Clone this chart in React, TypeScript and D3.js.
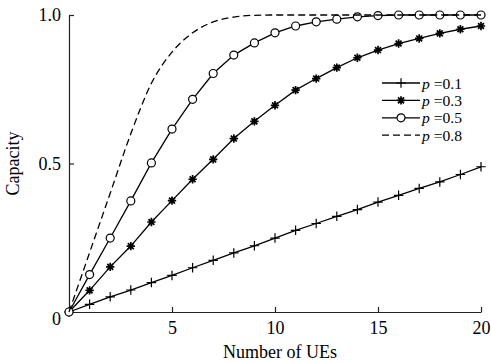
import { useRef, useEffect } from 'react';
import * as d3 from 'd3';

const UES = d3.range(0, 21);
const P01 = [0, 0.026, 0.051, 0.074, 0.099, 0.123, 0.149, 0.174, 0.199, 0.223, 0.249, 0.275, 0.298, 0.322, 0.345, 0.370, 0.393, 0.416, 0.438, 0.463, 0.489];
const P03 = [0, 0.073, 0.152, 0.222, 0.303, 0.375, 0.447, 0.514, 0.584, 0.642, 0.696, 0.747, 0.786, 0.823, 0.856, 0.882, 0.904, 0.921, 0.938, 0.952, 0.963];
const P05 = [0, 0.126, 0.249, 0.374, 0.502, 0.616, 0.716, 0.803, 0.865, 0.906, 0.940, 0.963, 0.977, 0.986, 0.994, 0.998, 1.0, 1.0, 1.0, 1.0, 1.0];
const P08 = [0, 0.2, 0.4, 0.6, 0.77, 0.875, 0.94, 0.977, 0.993, 0.999, 1.0, 1.0, 1.0, 1.0, 1.0, 1.0, 1.0, 1.0, 1.0, 1.0, 1.0];
const LABELS = ['0.1', '0.3', '0.5', '0.8'];
const X_TICKS = [5, 10, 15, 20];
const Y_TICKS = [0, 0.5, 1.0];

const W = 491;
const H = 362;
const FONT = '"Liberation Serif", "Times New Roman", serif';

// 8-armed star like the matlab '*' marker
const starSymbol = {
  draw(ctx: d3.Path, size: number) {
    const r = Math.sqrt(size) / 2;
    const d = r * Math.SQRT1_2;
    ctx.moveTo(-r, 0); ctx.lineTo(r, 0);
    ctx.moveTo(0, -r); ctx.lineTo(0, r);
    ctx.moveTo(-d, -d); ctx.lineTo(d, d);
    ctx.moveTo(-d, d); ctx.lineTo(d, -d);
  },
};
const plusSymbol = {
  draw(ctx: d3.Path, size: number) {
    const r = Math.sqrt(size) / 2;
    ctx.moveTo(-r, 0); ctx.lineTo(r, 0);
    ctx.moveTo(0, -r); ctx.lineTo(0, r);
  },
};

export default function App() {
  const ref = useRef<SVGSVGElement>(null);

  useEffect(() => {
    if (!ref.current) return;
    const svg = d3.select(ref.current);
    svg.selectAll('*').remove();

    const x = d3.scaleLinear().domain([0, 20]).range([69, 481]);
    const y = d3.scaleLinear().domain([0, 1]).range([312, 15]);

    const series = [
      { name: LABELS[0], values: P01, marker: 'plus' },
      { name: LABELS[1], values: P03, marker: 'star' },
      { name: LABELS[2], values: P05, marker: 'circle' },
      { name: LABELS[3], values: P08, marker: 'none' },
    ];

    // axes
    const xAxis = svg.append('g')
      .attr('transform', `translate(0,${y(0)})`)
      .call(d3.axisBottom(x).tickValues(X_TICKS).tickSize(-5).tickSizeOuter(0).tickPadding(9).tickFormat(d3.format('d')));
    const yAxis = svg.append('g')
      .attr('transform', `translate(${x(0)},0)`)
      .call(d3.axisLeft(y).tickValues(Y_TICKS).tickSize(-5).tickSizeOuter(0).tickPadding(8)
        .tickFormat(d => (d === 0 ? '0' : d3.format('.1f')(d as number))));
    yAxis.selectAll('.tick').filter(d => d === 0).select('line').remove();
    yAxis.selectAll('.tick').filter(d => d === 0).select('text').attr('dy', '0.75em').attr('y', -1);
    for (const g of [xAxis, yAxis]) {
      g.selectAll('text').attr('font-family', FONT).attr('font-size', 18).attr('fill', '#000');
      g.selectAll('line, path').attr('stroke', '#222').attr('stroke-width', 1.2);
    }

    // axis titles
    svg.append('text')
      .attr('x', (x(0) + x(20)) / 2 + 5)
      .attr('y', 358)
      .attr('text-anchor', 'middle')
      .attr('font-family', FONT)
      .attr('font-size', 18)
      .attr('fill', '#000')
      .text('Number of UEs');
    svg.append('text')
      .attr('transform', `translate(19,${y(0.5)}) rotate(-90)`)
      .attr('text-anchor', 'middle')
      .attr('font-family', FONT)
      .attr('font-size', 18)
      .attr('fill', '#000')
      .text('Capacity');

    const line = d3.line<number>().x((_, i) => x(UES[i])).y(d => y(d));
    const smooth = d3.line<number>().x((_, i) => x(UES[i])).y(d => y(d)).curve(d3.curveMonotoneX);

    const drawMarker = (g: d3.Selection<SVGGElement, unknown, null, undefined>, kind: string, cx: number, cy: number) => {
      if (kind === 'plus') {
        g.append('path').attr('d', d3.symbol(plusSymbol as any, 90)()).attr('transform', `translate(${cx},${cy})`)
          .attr('stroke', '#000').attr('stroke-width', 1.2).attr('fill', 'none');
      } else if (kind === 'star') {
        g.append('path').attr('d', d3.symbol(starSymbol as any, 70)()).attr('transform', `translate(${cx},${cy})`)
          .attr('stroke', '#000').attr('stroke-width', 1.7).attr('fill', 'none');
      } else if (kind === 'circle') {
        g.append('circle').attr('cx', cx).attr('cy', cy).attr('r', 4)
          .attr('stroke', '#000').attr('stroke-width', 1.2).attr('fill', '#fff');
      }
    };

    const plot = svg.append('g');
    series.forEach(s => {
      const g = plot.append('g');
      g.append('path')
        .attr('d', s.marker === 'none' ? smooth(s.values) : line(s.values))
        .attr('fill', 'none')
        .attr('stroke', '#000')
        .attr('stroke-width', 1.3)
        .attr('stroke-dasharray', s.marker === 'none' ? '7,4' : null);
      if (s.marker !== 'none') {
        s.values.forEach((v, i) => drawMarker(g as any, s.marker, x(UES[i]), y(v)));
      }
    });

    // legend
    const legend = svg.append('g').attr('transform', 'translate(382,83)');
    series.forEach((s, i) => {
      const row = legend.append('g').attr('transform', `translate(0,${i * 17.4})`);
      row.append('line')
        .attr('x1', 0).attr('x2', 38).attr('y1', 0).attr('y2', 0)
        .attr('stroke', '#000').attr('stroke-width', 1.3)
        .attr('stroke-dasharray', s.marker === 'none' ? '7,4' : null);
      drawMarker(row as any, s.marker, 19, 0);
      const t = row.append('text')
        .attr('x', 40).attr('y', 5.5)
        .attr('font-family', FONT)
        .attr('font-size', 15.6)
        .attr('fill', '#000');
      t.append('tspan').attr('font-style', 'italic').text('p');
      t.append('tspan').text(` =${s.name}`);
    });
  }, []);

  return (
    <svg ref={ref} width={W} height={H} style={{ position: 'absolute', left: 0, top: 0, background: '#fff' }} />
  );
}
